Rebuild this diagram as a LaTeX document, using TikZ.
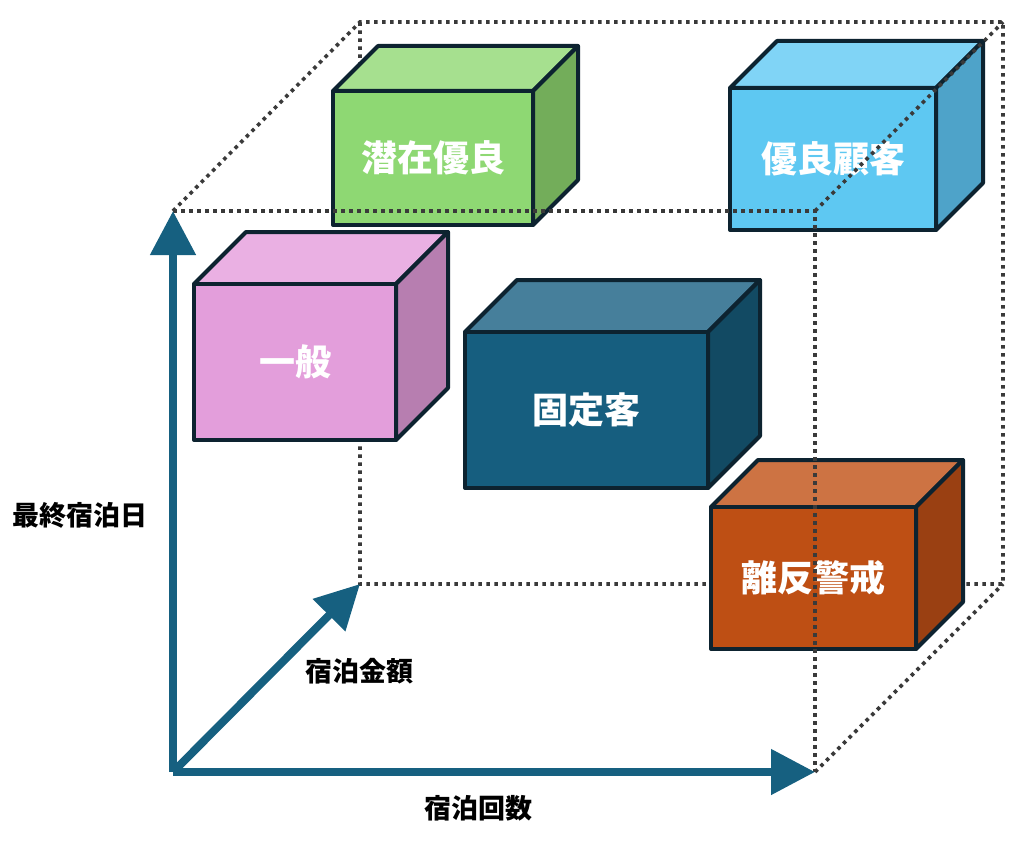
\documentclass[tikz,border=0pt]{standalone}
\usepackage{fontspec}
\setmainfont{Noto Sans CJK JP}
\usetikzlibrary{arrows.meta}
\definecolor{edgec}{HTML}{0D2330}
\definecolor{axisc}{HTML}{166080}
\definecolor{dotc}{HTML}{3A3A3A}
\definecolor{gfront}{HTML}{8ED873}
\definecolor{gtop}{HTML}{A6E08F}
\definecolor{gside}{HTML}{73AD5A}
\definecolor{bfront}{HTML}{5EC8F2}
\definecolor{btop}{HTML}{80D4F6}
\definecolor{bside}{HTML}{4EA3C9}
\definecolor{pfront}{HTML}{E39EDB}
\definecolor{ptop}{HTML}{EAB0E3}
\definecolor{pside}{HTML}{B77EB0}
\definecolor{tfront}{HTML}{165E7F}
\definecolor{ttop}{HTML}{467F9B}
\definecolor{tside}{HTML}{124A63}
\definecolor{ofront}{HTML}{BE4F14}
\definecolor{otop}{HTML}{CD7343}
\definecolor{oside}{HTML}{9A4012}
\tikzset{
  boxedge/.style={draw=edgec, line width=4pt, line join=round},
  boxlabel/.style={text=white, font=\fontsize{36}{40}\selectfont\bfseries, inner sep=0pt, outer sep=0pt},
  axislabel/.style={text=black, font=\fontsize{27}{30}\selectfont\bfseries, inner sep=0pt},
  dotline/.style={draw=dotc, line width=3.6pt, dash pattern=on 3.6pt off 4.4pt},
  axisarrow/.style={draw=axisc, line width=8pt, -{Triangle[length=44pt 0, width=44pt 0]}}
}
\newcommand{\cubebox}[8]{%
  \filldraw[boxedge, fill=#7top] (#2,#3) -- ++(#6,-#6) -- ++(#4,0) -- ++(-#6,#6) -- cycle;
  \filldraw[boxedge, fill=#7side] ({#2+#4},#3) -- ++(#6,-#6) -- ++(0,#5) -- ++(-#6,#6) -- cycle;
  \node[boxedge, fill=#7front, minimum width=#4pt, minimum height=#5pt, anchor=north west, boxlabel] (#1) at (#2,#3) {#8};
}
\begin{document}
\begin{tikzpicture}[x=1pt, y=-1pt]
\useasboundingbox (0,0) rectangle (1019,840);
% cube corners
\coordinate (O) at (173,772);
\coordinate (FTL) at (173,211);
\coordinate (FTR) at (815,211);
\coordinate (FBR) at (815,772);
\coordinate (BTL) at (360,22);
\coordinate (BTR) at (1003,22);
\coordinate (BBR) at (1003,584);
\coordinate (BBL) at (360,584);
% back edges
\draw[dotline] (FTL) -- (BTL) -- (BTR) -- (BBR) -- (BBL) -- (BTL);
\draw[dotline] (FBR) -- (BBR);
% boxes
\cubebox{senzai}{333}{91}{200}{134}{45}{g}{潜在優良}
\cubebox{ippan}{194}{284}{202}{156}{52}{p}{一般}
\cubebox{kotei}{465}{332}{243}{156}{52}{t}{固定客}
\cubebox{yuryo}{730}{88}{206}{142}{47}{b}{優良顧客}
\cubebox{rihan}{711}{507}{205}{142}{47}{o}{離反警戒}
% front edges
\draw[dotline] (FTL) -- (FTR) -- (FBR);
\draw[dotline] (FTR) -- (BTR);
% axes
\draw[axisarrow] (O) -- (FTL);
\draw[axisarrow] (O) -- (FBR);
\draw[axisarrow] (O) -- (BBL);
% axis labels
\node[axislabel] (ly) at (80,515) {最終宿泊日};
\node[axislabel] (lz) at (359,671) {宿泊金額};
\node[axislabel] (lx) at (478,808) {宿泊回数};
\end{tikzpicture}
\end{document}
